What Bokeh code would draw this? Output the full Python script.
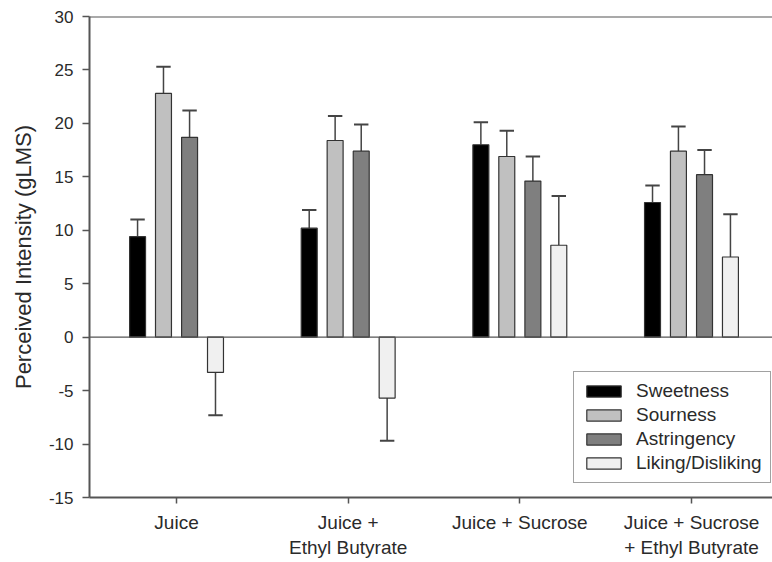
from bokeh.plotting import figure
from bokeh.models import Range1d, FixedTicker, Span, Legend, LegendItem, ColumnDataSource
from bokeh.embed import file_html
from bokeh.resources import INLINE

# ---- data ----
categories = ["Juice", "Juice +\nEthyl Butyrate", "Juice + Sucrose", "Juice + Sucrose\n+ Ethyl Butyrate"]
series = ["Sweetness", "Sourness", "Astringency", "Liking/Disliking"]
sweetness = [9.4, 10.2, 18.0, 12.6]
sweetness_err = [1.6, 1.7, 2.1, 1.6]
sourness = [22.8, 18.4, 16.9, 17.4]
sourness_err = [2.5, 2.3, 2.4, 2.3]
astringency = [18.7, 17.4, 14.6, 15.2]
astringency_err = [2.5, 2.5, 2.3, 2.3]
liking = [-3.3, -5.7, 8.6, 7.5]
liking_err = [4.0, 4.0, 4.6, 4.0]
y_ticks = [-15, -10, -5, 0, 5, 10, 15, 20, 25, 30]
y_tick_labels = ["-15", "-10", "-5", "0", "5", "10", "15", "20", "25", "30"]

values = [sweetness, sourness, astringency, liking]
errors = [sweetness_err, sourness_err, astringency_err, liking_err]
colors = ["#000000", "#c0c0c0", "#7f7f7f", "#f0f0f0"]

FONT = "Liberation Sans"
AX = "#555555"

p = figure(width=772, height=562, output_backend="svg", toolbar_location=None,
           x_range=Range1d(0.493, 4.472), y_range=Range1d(-15, 30),
           min_border_left=89, min_border_top=16, min_border_bottom=65, min_border_right=0)
p.background_fill_color = "white"
p.border_fill_color = "white"
p.outline_line_color = None
p.xgrid.visible = False
p.ygrid.visible = False

xs = [1, 2, 3, 4]
offsets = [-0.227, -0.076, 0.076, 0.227]
bar_w = 0.093
cap_half = 0.042

items = []
for s, vals, errs, col, off in zip(series, values, errors, colors, offsets):
    bx = [x + off for x in xs]
    tips = [v + e if v >= 0 else v - e for v, e in zip(vals, errs)]
    src = ColumnDataSource(dict(x=bx, top=vals, tip=tips,
                                x0=[b - cap_half for b in bx], x1=[b + cap_half for b in bx]))
    p.segment(x0="x", y0="top", x1="x", y1="tip", source=src, line_color="#444444", line_width=1.5)
    p.segment(x0="x0", y0="tip", x1="x1", y1="tip", source=src, line_color="#444444", line_width=2)
    r = p.vbar(x="x", top="top", bottom=0, width=bar_w, source=src,
               fill_color=col, line_color="#333333", line_width=1.2)
    items.append(LegendItem(label=s, renderers=[r]))

p.add_layout(Span(location=0, dimension="width", line_color=AX, line_width=1.2))
p.add_layout(Span(location=30, dimension="width", line_color=AX, line_width=2))

# axes
p.yaxis.ticker = FixedTicker(ticks=y_ticks)
p.yaxis.major_label_overrides = dict(zip(y_ticks, y_tick_labels))
p.yaxis.axis_label = "Perceived Intensity (gLMS)"
p.xaxis.ticker = FixedTicker(ticks=xs)
p.xaxis.major_label_overrides = {i + 1: c for i, c in enumerate(categories)}
for ax in (p.xaxis[0], p.yaxis[0]):
    ax.axis_line_color = AX
    ax.axis_line_width = 2
    ax.major_tick_line_color = AX
    ax.major_tick_line_width = 1.5
    ax.major_tick_in = 0
    ax.minor_tick_line_color = None
    ax.major_label_text_font = FONT
    ax.major_label_text_color = "#2a2a2a"
    ax.axis_label_text_font = FONT
    ax.axis_label_text_font_style = "normal"
    ax.axis_label_text_color = "#2a2a2a"
p.yaxis.major_tick_out = 7
p.yaxis.major_label_text_font_size = "17px"
p.yaxis.major_label_standoff = 9
p.yaxis.axis_label_text_font_size = "22px"
p.yaxis.axis_label_standoff = 10
p.xaxis.major_tick_out = 6
p.xaxis.major_label_text_font_size = "19px"
p.xaxis.major_label_standoff = 8

legend = Legend(items=items, location=(484, 14))
legend.label_text_font = FONT
legend.label_text_font_size = "19px"
legend.label_text_color = "#2a2a2a"
legend.glyph_width = 43
legend.glyph_height = 14
legend.label_height = 21
legend.label_standoff = 11
legend.spacing = 2
legend.padding = 8
legend.margin = 0
legend.border_line_color = "#444444"
legend.border_line_width = 1.5
legend.background_fill_alpha = 1
p.add_layout(legend)

open("out.html", "w").write(file_html(p, INLINE))
